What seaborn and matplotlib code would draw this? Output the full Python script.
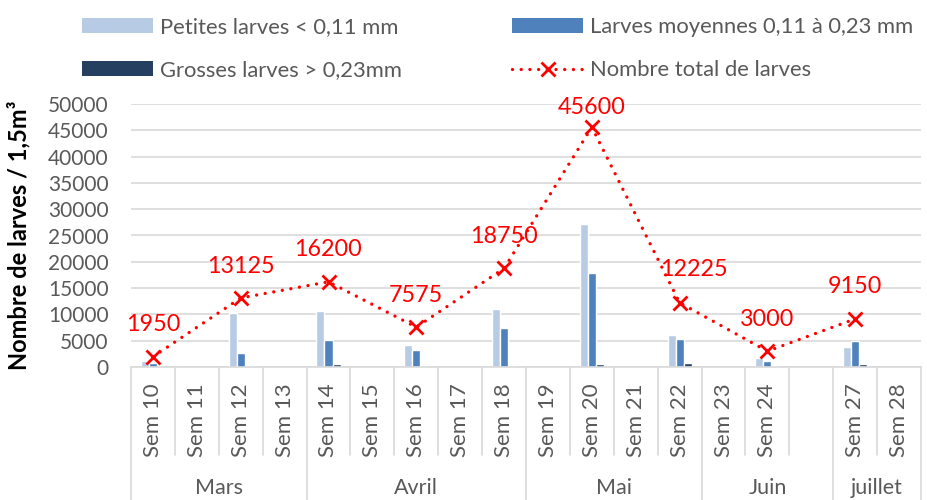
import numpy as np
import pandas as pd
import seaborn as sns
import matplotlib.pyplot as plt
import matplotlib.transforms as mtrans
from matplotlib.patches import Patch
from matplotlib.lines import Line2D

nan = np.nan

# categories (one empty slot between Sem 24 and Sem 27, as in the original)
weeks = ["Sem 10", "Sem 11", "Sem 12", "Sem 13", "Sem 14", "Sem 15", "Sem 16",
         "Sem 17", "Sem 18", "Sem 19", "Sem 20", "Sem 21", "Sem 22", "Sem 23",
         "Sem 24", "", "Sem 27", "Sem 28"]
months = ["Mars", "Avril", "Mai", "Juin", "juillet"]
weeks_per_month = [4, 5, 4, 3, 2]

# larves / 1,5 m3
petites = [1050, nan, 10200, nan, 10600, nan, 4200, nan, 11100, nan,
           27100, nan, 6000, nan, 1700, nan, 3800, nan]
moyennes = [700, nan, 2700, nan, 5100, nan, 3200, nan, 7500, nan,
            17900, nan, 5400, nan, 1100, nan, 4850, nan]
grosses = [200, nan, 225, nan, 500, nan, 175, nan, 150, nan,
           600, nan, 825, nan, 200, nan, 500, nan]
totals = [1950, nan, 13125, nan, 16200, nan, 7575, nan, 18750, nan,
          45600, nan, 12225, nan, 3000, nan, 9150, nan]

series_names = ["Petites larves < 0,11 mm", "Larves moyennes 0,11 à 0,23 mm",
                "Grosses larves > 0,23mm"]
total_name = "Nombre total de larves"
colors = ["#B7CBE5", "#4F81BD", "#243F60"]
grey = "#595959"
light = "#D9D9D9"

sns.set_theme(style="white")
plt.rcParams['font.family'] = ['Lato', 'DejaVu Sans']

df = pd.DataFrame({
    "week": weeks * 3,
    "value": petites + moyennes + grosses,
    "serie": np.repeat(series_names, len(weeks)),
}).dropna()

fig = plt.figure(figsize=(9.27, 5), dpi=100)
ax = fig.add_axes([131 / 927, 133 / 500, 790 / 927, 263 / 500])

sns.barplot(data=df, x="week", y="value", hue="serie", order=weeks,
            hue_order=series_names, palette=colors, width=0.55, saturation=1,
            errorbar=None, legend=False, ax=ax, zorder=2)

# total line, connecting over the empty weeks
pos = np.arange(len(weeks))
tot = np.array(totals)
ok = ~np.isnan(tot)
ax.plot(pos[ok], tot[ok], color="red", lw=2.4, ls=(0, (0.01, 2.6)),
        dash_capstyle="round", marker="x", ms=10, mew=2, zorder=4)

# data labels
nudge = {"45600": (0, 14), "12225": (10, 24)}
for x, v in zip(pos[ok], tot[ok]):
    lab = f"{int(v)}"
    dx, dy = nudge.get(lab, (0, 23))
    ax.annotate(lab, (x, v), xytext=(dx, dy), textcoords="offset points",
                ha="center", va="center", color="red", fontsize=16.8, zorder=5)

ax.set_ylim(0, 50000)
ax.set_yticks(np.arange(0, 50001, 5000))
ax.set_xlim(-0.5, len(weeks) - 0.5)
ax.yaxis.grid(True, color=light, lw=1.2, zorder=0)
ax.set_axisbelow(True)
for s in ["top", "right", "left"]:
    ax.spines[s].set_visible(False)
ax.spines["bottom"].set_color(light)
ax.spines["bottom"].set_linewidth(1.2)
ax.tick_params(axis="y", length=0, pad=16, labelsize=15, labelcolor=grey)
ax.tick_params(axis="x", length=0, labelbottom=False)
ax.set_xlabel("")
ax.set_ylabel("Nombre de larves / 1,5m³", fontsize=17, fontweight="bold",
              color="black")
ax.yaxis.set_label_coords(-0.127, 0.50)

# two-level category axis
trans = mtrans.blended_transform_factory(ax.transData, ax.transAxes)
for i, w in enumerate(weeks):
    ax.text(i, -0.061, w, rotation=90, ha="center", va="top", color=grey,
            fontsize=16, transform=trans)
bounds = np.concatenate([[0], np.cumsum(weeks_per_month)])
for k in range(len(weeks) + 1):
    y_end = -0.506 if k in bounds else -0.335
    ax.plot([k - 0.5, k - 0.5], [0, y_end], color=light, lw=1.2,
            transform=trans, clip_on=False)
for m, a, b in zip(months, bounds[:-1], bounds[1:]):
    ax.text((a + b) / 2 - 0.5, -0.46, m, ha="center", va="center",
            color=grey, fontsize=15.5, transform=trans)

# legend, row by row
handles = [Patch(facecolor=colors[0], edgecolor="none"),
           Patch(facecolor=colors[2], edgecolor="none"),
           Patch(facecolor=colors[1], edgecolor="none"),
           Line2D([], [], color="red", lw=2.4, ls=(0, (0.01, 2.6)),
                  dash_capstyle="round", marker="x", ms=10, mew=2)]
labels = [series_names[0], series_names[2], series_names[1], total_name]
leg = fig.legend(handles, labels, ncol=2, loc="upper left",
                 bbox_to_anchor=(82 / 927, 1 - 17 / 500), frameon=False,
                 fontsize=15.8, handlelength=3.25, handletextpad=0.32,
                 columnspacing=5.0, labelspacing=1.07, borderpad=0,
                 borderaxespad=0)
for t in leg.get_texts():
    t.set_color(grey)

fig.savefig("out.png", dpi=100)
